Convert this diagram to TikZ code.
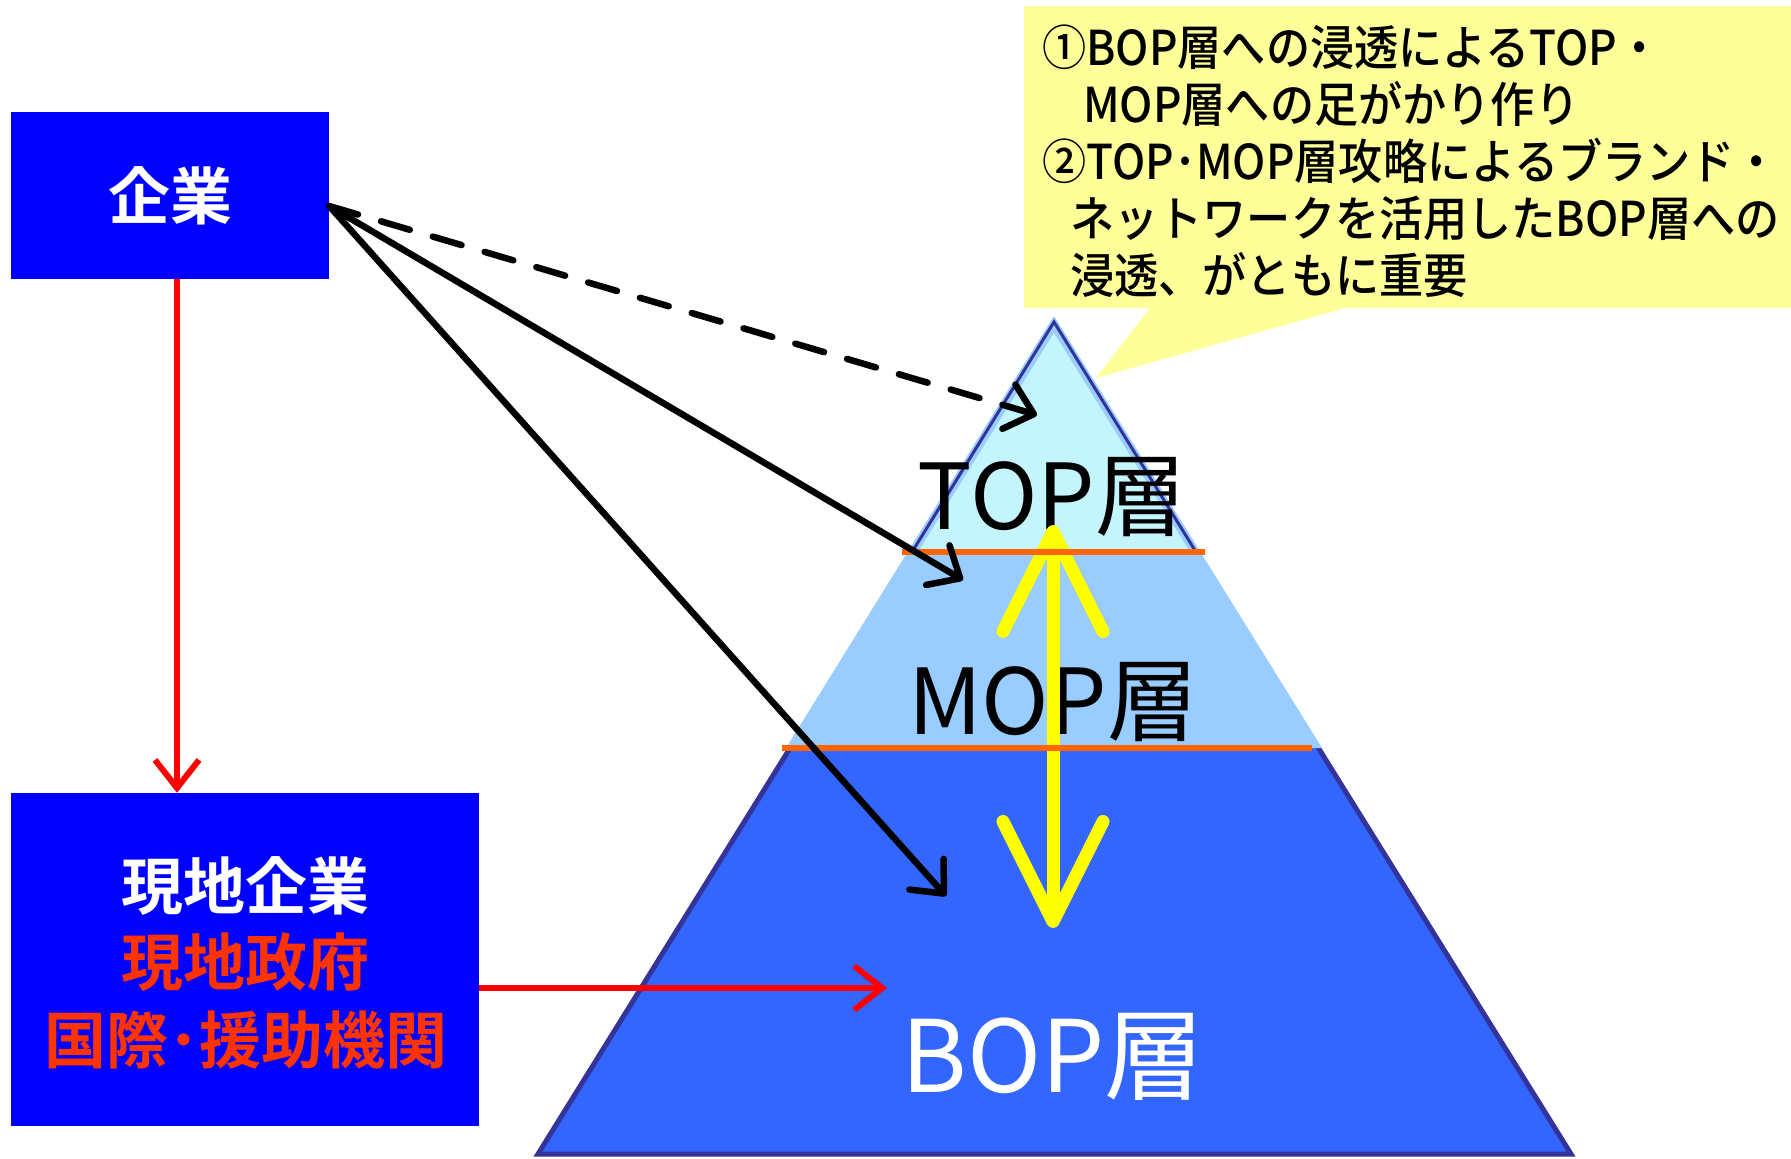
\documentclass[tikz,border=0pt]{standalone}
\usepackage{fontspec}
\setmainfont{Noto Sans CJK JP}
\newfontfamily\jpr{Noto Sans CJK JP}
\newfontfamily\jpn{Noto Sans CJK JP Medium}[FakeStretch=0.92]
\newfontfamily\jpb{Noto Sans CJK JP Bold}
\usetikzlibrary{arrows.meta}
\definecolor{boxblue}{HTML}{0000FF}
\definecolor{noteyellow}{HTML}{FFFF99}
\definecolor{toplayer}{HTML}{C5F5FC}
\definecolor{moplayer}{HTML}{99CCFF}
\definecolor{boplayer}{HTML}{3366FF}
\definecolor{pyredge}{HTML}{333399}
\definecolor{layerline}{HTML}{FF6600}
\definecolor{redtext}{HTML}{FF3300}
\definecolor{arrowyellow}{HTML}{FFFF00}
\definecolor{arrowred}{HTML}{FF0000}
\begin{document}
\begin{tikzpicture}[x=1pt,y=-1pt,
  bluebox/.style={fill=boxblue, inner sep=0pt},
  boxtext/.style={font=\jpb\fontsize{62}{62}\selectfont, inner sep=0pt},
  notetext/.style={font=\jpn\fontsize{48}{57}\selectfont, anchor=base west, inner sep=0pt},
  layertext/.style={font=\jpr\fontsize{91}{91}\selectfont, inner sep=0pt},
  redarrow/.style={draw=arrowred, line width=6pt, arrows={-Straight Barb[length=28pt,width=44pt]}},
  blackarrow/.style={draw=black, line width=6.5pt, line cap=round, arrows={-Straight Barb[length=26pt,width=46pt,round]}},
  yellowarrow/.style={draw=arrowyellow, line width=13pt, arrows={Straight Barb[length=100pt,width=100pt,round]-Straight Barb[length=100pt,width=100pt,round]}},
  layerrule/.style={draw=layerline, line width=5.5pt}
]
\useasboundingbox (0,0) rectangle (1791,1159);
\fill[white] (0,0) rectangle (1791,1159);

% callout
\fill[noteyellow] (1024,6) -- (1791,6) -- (1791,308) -- (1345,308) -- (1096,378) -- (1150,308) -- (1024,308) -- cycle;
\node[notetext] (n1) at (1042,65) {①BOP層への浸透によるTOP・};
\node[notetext] (n2) at (1083,122) {MOP層への足がかり作り};
\node[notetext] (n3) at (1042,179) {②TOP･MOP層攻略によるブランド・};
\node[notetext] (n4) at (1070,236) {ネットワークを活用したBOP層への};
\node[notetext] (n5) at (1070,293) {浸透、がともに重要};

% pyramid
\fill[boplayer] (1054,323) -- (538,1154) -- (1571,1154) -- cycle;
\draw[pyredge, line width=5pt] (1054,323) -- (538,1154) -- (1571,1154) -- cycle;
\fill[moplayer] (1054,316) -- (786,748) -- (1322,748) -- cycle;
\draw[pyredge, line width=3pt] (912,552) -- (1054,322) -- (1196,552);
\fill[toplayer] (1054,333) -- (918,552) -- (1190,552) -- cycle;

\node[layertext] (top) at (1052,497) {TOP層};
\node[layertext] (mop) at (1053,702) {MOP層};
\node[layertext, text=white, font=\jpr\fontsize{100}{100}\selectfont] (bop) at (1053,1057) {BOP層};

% yellow double arrow
\coordinate (ytop) at (1053,525);
\coordinate (ybot) at (1053,928);
\draw[yellowarrow] (ybot) -- (ytop);

% layer rules
\draw[layerrule] (902,552) -- (1205,552);
\draw[layerrule] (782,748) -- (1312,748);

% boxes
\node[bluebox, minimum width=318pt, minimum height=167pt, text=white, font=\jpb\fontsize{62}{62}\selectfont] (kigyo) at (170,195.5) {企業};
\node[bluebox, minimum width=468pt, minimum height=333pt] (local) at (245,959.5) {};
\node[boxtext, text=white] (l1) at (245.5,886) {現地企業};
\node[boxtext, text=redtext] (l2) at (245.5,962) {現地政府};
\node[boxtext, text=redtext] (l3) at (245.5,1040) {国際･援助機関};

% black arrows
\coordinate (ks) at ([yshift=-10.5pt]kigyo.east);
\coordinate (t1) at (1037,415);
\coordinate (t2) at (963,580);
\coordinate (t3) at (946,896);
\draw[blackarrow, dash pattern=on 30pt off 24pt] (ks) -- (t1);
\draw[blackarrow] (ks) -- (t2);
\draw[blackarrow] (ks) -- (t3);

% red arrows
\draw[redarrow] ([xshift=7pt]kigyo.south) -- ([xshift=7pt]kigyo.south |- local.north);
\coordinate (rtip) at (887,988);
\draw[redarrow] (local.east |- rtip) -- (rtip);
\end{tikzpicture}
\end{document}
